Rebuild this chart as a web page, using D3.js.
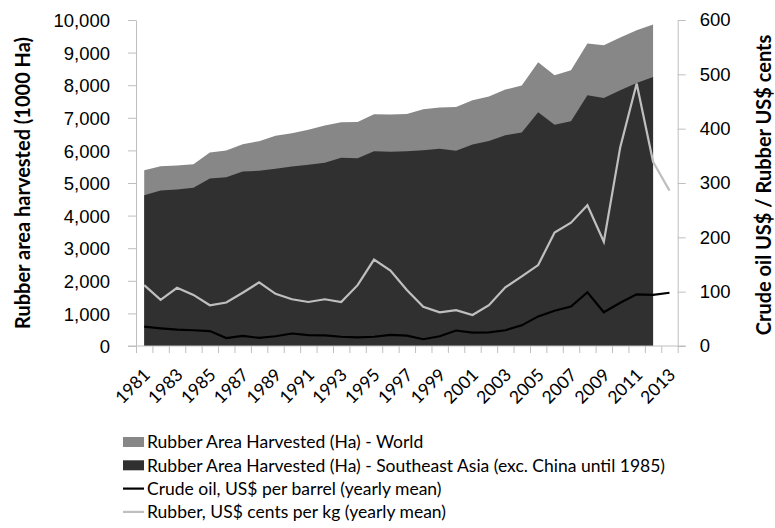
<!DOCTYPE html>
<html>
<head>
<meta charset="utf-8">
<script src="https://cdn.jsdelivr.net/npm/d3@7"></script>
<style>
  body { margin: 0; background: #fff; }
  svg { display: block; font-family: Lato, "Open Sans", sans-serif; }
</style>
</head>
<body>
<svg id="chart"></svg>
<script>
// 年份
const years = d3.range(1981, 2014);
// 橡胶收获面积 (1000 Ha), 1981-2012
const areaWorld = [5394, 5516, 5537, 5578, 5936, 5997, 6191, 6283, 6446, 6528, 6630, 6763, 6865, 6875, 7110, 7101,
    7120, 7263, 7314, 7330, 7539, 7651, 7866, 7988, 8704, 8305, 8458, 9277, 9225, 9460, 9684, 9859];
const areaSEA = [4628, 4771, 4801, 4852, 5139, 5179, 5353, 5373, 5434, 5506, 5557, 5618, 5771, 5761, 5976, 5955,
    5976, 6007, 6047, 5986, 6180, 6292, 6466, 6548, 7171, 6783, 6895, 7692, 7610, 7845, 8070, 8253];
// 原油 US$/桶, 橡胶 US cents/kg, 1981-2013
const crudeOil = [35.5, 32.5, 30, 29, 27.5, 14.5, 18.5, 15, 18, 23, 20, 19.5, 17, 16, 17, 20.5,
    19, 12.5, 18, 28.5, 24.5, 25, 29, 38, 54.5, 65, 72.5, 99, 62, 79.5, 95, 94, 98];
const rubberPrice = [112, 85, 107, 94, 75, 80, 98, 117, 96, 86, 81, 86, 81, 112, 159, 139,
    103, 72, 62, 66, 57, 75, 108, 128, 149, 209, 227, 259, 192, 366, 483, 339, 286];
const leftTicks = [0, 1000, 2000, 3000, 4000, 5000, 6000, 7000, 8000, 9000, 10000];
const rightTicks = [0, 100, 200, 300, 400, 500, 600];
const legendItems = [
    {label: 'Rubber Area Harvested (Ha) - World', type: 'rect', color: '#878787'},
    {label: 'Rubber Area Harvested (Ha) - Southeast Asia (exc. China until 1985)', type: 'rect', color: '#303030'},
    {label: 'Crude oil, US$ per barrel (yearly mean)', type: 'line', color: '#000'},
    {label: 'Rubber, US$ cents per kg (yearly mean)', type: 'line', color: '#bfbfbf'}
];

const width = 775, height = 528;
const axisColor = '#bfbfbf';
const svg = d3.select('#chart').attr('width', width).attr('height', height);

// 类目边界线性比例尺, 中心为整数年份
const xScale = d3.scaleLinear().domain([1980.5, 2013.5]).range([136, 677.7]);
const yLeft = d3.scaleLinear().domain([0, 10000]).range([346, 20]);
const yRight = d3.scaleLinear().domain([0, 600]).range([346, 20]);

const worldData = areaWorld.map((v, i) => ({year: years[i], v}));
const seaData = areaSEA.map((v, i) => ({year: years[i], v}));
const oilData = crudeOil.map((v, i) => ({year: years[i], v}));
const rubData = rubberPrice.map((v, i) => ({year: years[i], v}));

const area = d3.area().x(d => xScale(d.year)).y0(yLeft(0)).y1(d => yLeft(d.v));
svg.append('path').datum(worldData).attr('d', area).attr('fill', '#878787');
svg.append('path').datum(seaData).attr('d', area).attr('fill', '#303030');

const lineOil = d3.line().x(d => xScale(d.year)).y(d => yRight(d.v));
svg.append('path').datum(oilData).attr('d', lineOil)
    .attr('fill', 'none').attr('stroke', '#000').attr('stroke-width', 2.2);
svg.append('path').datum(rubData).attr('d', lineOil)
    .attr('fill', 'none').attr('stroke', '#bfbfbf').attr('stroke-width', 2.2);

// axes
function styleAxis(g) {
    g.selectAll('.domain').attr('stroke', axisColor);
    g.selectAll('.tick line').attr('stroke', axisColor);
    g.selectAll('.tick text').attr('fill', '#000').style('font-size', '18.5px');
}

const leftAxis = svg.append('g')
    .attr('transform', `translate(${xScale.range()[0]},0)`)
    .call(d3.axisLeft(yLeft).tickValues(leftTicks).tickFormat(d3.format(',')).tickSize(8).tickSizeOuter(0).tickPadding(18))
    .call(styleAxis);
leftAxis.selectAll('.tick text').attr('dy', '0.36em');

svg.append('g')
    .attr('transform', `translate(${xScale.range()[1]},0)`)
    .call(d3.axisRight(yRight).tickValues(rightTicks).tickSize(8).tickSizeOuter(0).tickPadding(14))
    .call(styleAxis);

// x axis: ticks at category boundaries
const xAxis = svg.append('g')
    .attr('transform', `translate(0,${yLeft(0)})`)
    .call(d3.axisBottom(xScale).tickValues(d3.range(1980.5, 2014, 1)).tickFormat('').tickSize(7).tickSizeOuter(0))
    .call(styleAxis);
xAxis.select('.domain').remove();
xAxis.append('line')
    .attr('x1', xScale.range()[0] - 8).attr('x2', xScale.range()[1] + 8)
    .attr('stroke', axisColor);

svg.append('g').selectAll('text')
    .data(years.filter(y => (y - 1981) % 2 === 0))
    .enter()
    .append('text')
    .attr('transform', d => `translate(${xScale(d) + 7},${376}) rotate(-45)`)
    .attr('text-anchor', 'end')
    .style('font-size', '17.5px')
    .text(d => d);

// axis titles
svg.append('text')
    .attr('transform', `translate(30,${(yLeft(0) + yLeft(10000)) / 2}) rotate(-90)`)
    .attr('text-anchor', 'middle')
    .style('font-size', '20px').style('font-weight', 'bold')
    .text('Rubber area harvested (1000 Ha)');

svg.append('text')
    .attr('transform', `translate(771,${(yRight(0) + yRight(600)) / 2 + 2}) rotate(-90)`)
    .attr('text-anchor', 'middle')
    .style('font-size', '20px').style('font-weight', 'bold')
    .text('Crude oil US$ / Rubber US$ cents');

// legend
const legend = svg.append('g').attr('transform', 'translate(123,442)');
const items = legend.selectAll('g').data(legendItems).enter().append('g')
    .attr('transform', (d, i) => `translate(0,${i * 23.3})`);
items.filter(d => d.type === 'rect').append('rect')
    .attr('x', 0).attr('y', -5).attr('width', 21).attr('height', 10)
    .attr('fill', d => d.color);
items.filter(d => d.type === 'line').append('line')
    .attr('x1', 0).attr('x2', 21)
    .attr('stroke', d => d.color).attr('stroke-width', 2.2);
items.append('text')
    .attr('x', 24).attr('dy', '0.36em')
    .style('font-size', '17.5px')
    .text(d => d.label);
</script>
</body>
</html>
